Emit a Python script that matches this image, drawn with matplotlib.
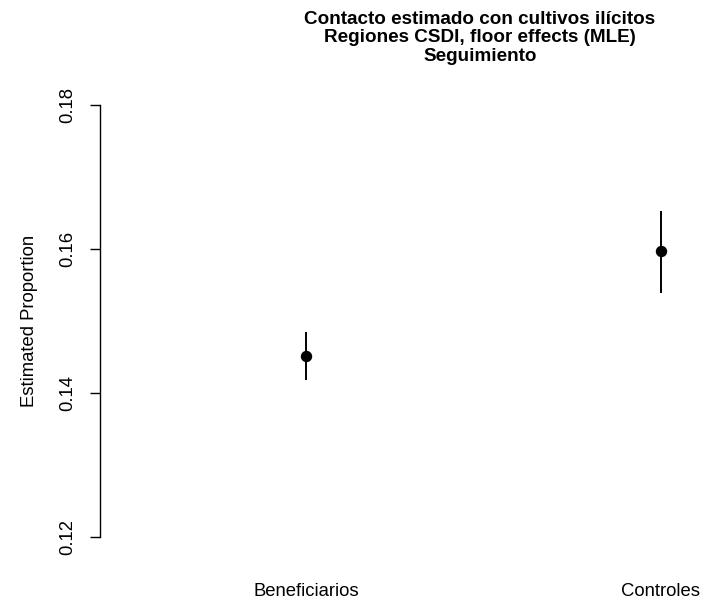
import matplotlib
matplotlib.use("Agg")
import matplotlib.pyplot as plt

plt.rcParams['font.family'] = ['Liberation Sans', 'DejaVu Sans']

groups = ['Beneficiarios', 'Controles']
positions = [1, 2]
estimates = [0.1451, 0.1597]
lower = [0.1418, 0.1539]
upper = [0.1485, 0.1653]
yticks = [0.12, 0.14, 0.16, 0.18]

W, H = 705, 607
fig = plt.figure(figsize=(W / 100, H / 100), dpi=100)
# plot region in pixels: left 100, top ~88, bottom ~554
ax = fig.add_axes([100 / W, 1 - 554.3 / H, 585 / W, 466.6 / H])

for x, est, lo, hi in zip(positions, estimates, lower, upper):
    ax.plot([x, x], [lo, hi], color='black', lw=1.4, solid_capstyle='butt')
    ax.plot(x, est, 'o', color='black', markersize=7.2)

ax.set_xlim(1 - 206 / 355, 1 + 379 / 355)
ax.set_ylim(0.1176, 0.1824)
ax.spines['top'].set_visible(False)
ax.spines['right'].set_visible(False)
ax.spines['bottom'].set_visible(False)
ax.spines['left'].set_bounds(0.12, 0.18)
ax.spines['left'].set_linewidth(1.0)
ax.set_xticks([])
ax.set_yticks(yticks)
ax.set_yticklabels([f'{v:.2f}' for v in yticks], rotation=90, va='center', fontsize=13.3)
ax.tick_params(axis='y', length=7.2, width=1.0, pad=10)
ax.set_ylabel('Estimated Proportion', fontsize=13.3, labelpad=15)

# group names sit below the plot region, like R's axis labels
for x, g in zip(positions, groups):
    ax.annotate(g, xy=(x, 0), xycoords=('data', 'figure fraction'),
                xytext=(x, 1 - 592 / H), textcoords=('data', 'figure fraction'),
                ha='center', va='center', fontsize=13.3, annotation_clip=False)

fig.text(480 / W, 1 - 38 / H,
         'Contacto estimado con cultivos ilícitos\nRegiones CSDI, floor effects (MLE)\nSeguimiento',
         ha='center', va='center', fontsize=13.6, fontweight='bold', linespacing=1.1)

fig.savefig('out.png', dpi=100)
